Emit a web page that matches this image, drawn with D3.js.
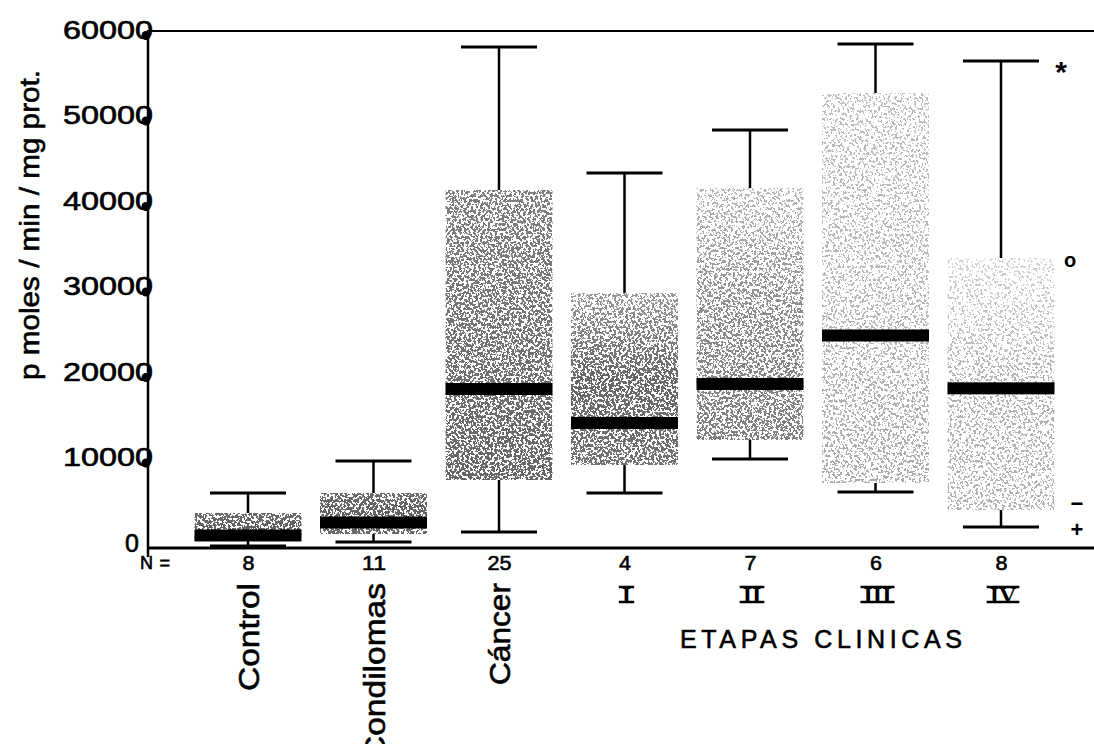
<!DOCTYPE html>
<html>
<head>
<meta charset="utf-8">
<script src="https://cdn.jsdelivr.net/npm/d3@7"></script>
<style>
  html, body { margin: 0; padding: 0; background: #fff; }
  svg { display: block; }
  text { font-family: "Liberation Sans", Arial, sans-serif; fill: #000; }
  .ink { stroke: #000; stroke-width: 0.6px; }
</style>
</head>
<body>
<svg id="chart" width="1094" height="744"></svg>
<script>
// Groups and clinical stages
const categories = ["Control", "Condilomas", "Cáncer", "I", "II", "III", "IV"];
const nValues = [8, 11, 25, 4, 7, 6, 8];

// Box plot statistics (pmoles/min/mg prot.)
const whiskerLow  = [0,    470,   1640,  6200,  10180, 6320,  2220];
const q1          = [580,  1400,  7720,  9470,  12400, 7370,  4210];
const medians     = [1230, 2750,  18360, 14390, 18950, 24620, 18440];
const q3          = [3860, 6200,  41640, 29590, 41870, 52980, 33680];
const whiskerHigh = [6190, 9940,  58360, 43630, 48650, 58710, 56730];

// Marks printed beside stage IV
const markSymbols = ["*", "o", "−", "+"];
const markValues  = [56730, 33400, 5000, 1900];

const yTicks = [0, 10000, 20000, 30000, 40000, 50000, 60000];

// Texture density (fraction of dark grain) from top to bottom of each box
const grainStops = [
  [0.58, 0.62, 0.62],
  [0.58, 0.62, 0.58],
  [0.5, 0.55, 0.6],
  [0.4, 0.6, 0.55],
  [0.28, 0.45, 0.5],
  [0.26, 0.28, 0.33],
  [0.18, 0.3, 0.3]
];

const svg = d3.select("#chart");
const plotLeft = 148, plotRight = 1094, plotTop = 31, plotBase = 548;

const y = d3.scaleLinear().domain([0, 60000]).range([546, 33]);
const x = d3.scalePoint().domain(categories).range([248, 1001]);
const boxW = 107, capW = 76;

// Grain filter: thresholded noise against the fill's opacity
const defs = svg.append("defs");
const f = defs.append("filter").attr("id", "grain")
  .attr("x", 0).attr("y", 0).attr("width", 1).attr("height", 1)
  .attr("color-interpolation-filters", "sRGB");
f.append("feTurbulence").attr("type", "fractalNoise").attr("baseFrequency", "0.42 0.38")
  .attr("numOctaves", 2).attr("seed", 7).attr("result", "noise");
f.append("feColorMatrix").attr("in", "noise").attr("type", "matrix")
  .attr("values", "0 0 0 0 0  0 0 0 0 0  0 0 0 0 0  3.4 0 0 0 -1.2").attr("result", "na");
f.append("feComposite").attr("in", "SourceGraphic").attr("in2", "na")
  .attr("operator", "arithmetic").attr("k1", 0).attr("k2", 1).attr("k3", -1).attr("k4", 0.5)
  .attr("result", "diff");
const ct = f.append("feComponentTransfer").attr("in", "diff").attr("result", "bw");
["feFuncR", "feFuncG", "feFuncB"].forEach(t => ct.append(t).attr("type", "linear").attr("slope", 0).attr("intercept", 0));
ct.append("feFuncA").attr("type", "discrete").attr("tableValues", "0 1");
f.append("feComposite").attr("in", "bw").attr("in2", "SourceAlpha").attr("operator", "in");

grainStops.forEach((stops, i) => {
  const g = defs.append("linearGradient").attr("id", "dens" + i)
    .attr("x1", 0).attr("y1", 0).attr("x2", 0).attr("y2", 1);
  stops.forEach((d, k) => g.append("stop")
    .attr("offset", k / (stops.length - 1))
    .attr("stop-color", "#000").attr("stop-opacity", d));
});

// Frame lines
svg.append("line").attr("x1", plotLeft).attr("x2", plotRight).attr("y1", plotTop).attr("y2", plotTop)
  .attr("stroke", "#000").attr("stroke-width", 2);
svg.append("line").attr("x1", plotLeft).attr("x2", plotRight).attr("y1", plotBase).attr("y2", plotBase)
  .attr("stroke", "#000").attr("stroke-width", 3);

// Boxes
const idx = d3.range(categories.length);
const boxes = svg.append("g");
idx.forEach(i => {
  const cx = x(categories[i]);
  const g = boxes.append("g");
  g.append("rect")
    .attr("x", cx - boxW / 2).attr("width", boxW)
    .attr("y", y(q3[i])).attr("height", y(q1[i]) - y(q3[i]))
    .attr("fill", `url(#dens${i})`).attr("filter", "url(#grain)");
  // whiskers
  g.append("line").attr("x1", cx).attr("x2", cx).attr("y1", y(whiskerHigh[i])).attr("y2", y(q3[i]))
    .attr("stroke", "#000").attr("stroke-width", 2.5);
  g.append("line").attr("x1", cx).attr("x2", cx).attr("y1", y(q1[i])).attr("y2", y(whiskerLow[i]))
    .attr("stroke", "#000").attr("stroke-width", 2.5);
  [whiskerHigh[i], whiskerLow[i]].forEach(v => g.append("line")
    .attr("x1", cx - capW / 2).attr("x2", cx + capW / 2).attr("y1", y(v)).attr("y2", y(v))
    .attr("stroke", "#000").attr("stroke-width", 3));
  // median
  g.append("rect").attr("x", cx - boxW / 2).attr("width", boxW)
    .attr("y", y(medians[i]) - 6).attr("height", 12).attr("fill", "#000");
});

// Y axis
const yAxis = svg.append("g").attr("transform", `translate(${plotLeft},0)`)
  .call(d3.axisLeft(y).tickValues(yTicks).tickSize(0).tickFormat(d3.format("d")));
yAxis.select(".domain").remove();
svg.append("line").attr("x1", plotLeft).attr("x2", plotLeft).attr("y1", plotTop - 1).attr("y2", 557)
  .attr("stroke", "#000").attr("stroke-width", 2.5);
yAxis.selectAll(".tick text")
  .attr("class", "ink")
  .attr("x", d => d === 0 ? -9 : 5).attr("dy", "0.32em").attr("y", -3)
  .attr("font-size", 25).attr("text-anchor", "end")
  .style("font-family", "'Liberation Sans', Arial, sans-serif")
  .each(function (d) { if (d !== 0) d3.select(this).attr("textLength", 90).attr("lengthAdjust", "spacingAndGlyphs"); });
yAxis.selectAll(".tick").filter(d => d !== 0).append("circle")
  .attr("cx", -2).attr("cy", 2).attr("r", 4.5).attr("fill", "#000");

// Y title
svg.append("text").attr("class", "ink")
  .attr("transform", "translate(39,225) rotate(-90)")
  .attr("text-anchor", "middle").attr("font-size", 27)
  .attr("textLength", 310).attr("lengthAdjust", "spacingAndGlyphs")
  .text("p moles / min / mg prot.");

// X axis: group sizes
const xAxis = svg.append("g").attr("transform", `translate(0,${plotBase})`)
  .call(d3.axisBottom(x).tickSize(0).tickPadding(0).tickFormat((d, i) => nValues[i]));
xAxis.select(".domain").remove();
xAxis.selectAll(".tick text").attr("class", "ink").attr("y", 15).attr("dy", "0.35em")
  .attr("font-size", 21)
  .style("font-family", "'Liberation Sans', Arial, sans-serif")
  .attr("textLength", (d, i) => String(nValues[i]).length * 12)
  .attr("lengthAdjust", "spacingAndGlyphs");
svg.append("text").attr("class", "ink").attr("x", 140).attr("y", 569).attr("font-size", 18)
  .attr("textLength", 30).attr("lengthAdjust", "spacing").text("N =");

// Rotated group names
const groupLen = { "Control": 108, "Condilomas": 177, "Cáncer": 102 };
idx.slice(0, 3).forEach(i => {
  const c = categories[i];
  svg.append("text").attr("class", "ink")
    .attr("transform", `translate(${x(c) + 11},583) rotate(-90)`)
    .attr("text-anchor", "end").attr("font-size", 30)
    .attr("textLength", groupLen[c]).attr("lengthAdjust", "spacingAndGlyphs")
    .text(c);
});

// Stage numerals with top and bottom bars
idx.slice(3).forEach(i => {
  const c = categories[i];
  const t = svg.append("text").attr("x", x(c) + 2).attr("y", 603)
    .attr("text-anchor", "middle").attr("font-size", 24).attr("font-weight", "bold")
    .style("font-family", "'Liberation Serif', 'DejaVu Serif', serif")
    .text(c);
  const w = t.node().getComputedTextLength() + 6;
  [587, 602].forEach(yy => svg.append("line")
    .attr("x1", x(c) + 2 - w / 2).attr("x2", x(c) + 2 + w / 2).attr("y1", yy).attr("y2", yy)
    .attr("stroke", "#000").attr("stroke-width", 2.5));
});

svg.append("text").attr("class", "ink").attr("x", 680).attr("y", 648).attr("font-size", 25)
  .attr("textLength", 282).attr("lengthAdjust", "spacing")
  .text("ETAPAS  CLINICAS");

// Side marks for stage IV
markSymbols.forEach((s, k) => {
  svg.append("text").attr("x", k === 0 ? 1061 : (k === 1 ? 1070 : 1077)).attr("y", y(markValues[k]))
    .attr("dy", k === 0 ? "0.7em" : "0.35em")
    .attr("text-anchor", "middle").attr("font-weight", "bold")
    .attr("font-size", k === 0 ? 30 : (k === 1 ? 20 : 22))
    .text(s);
});
</script>
</body>
</html>
